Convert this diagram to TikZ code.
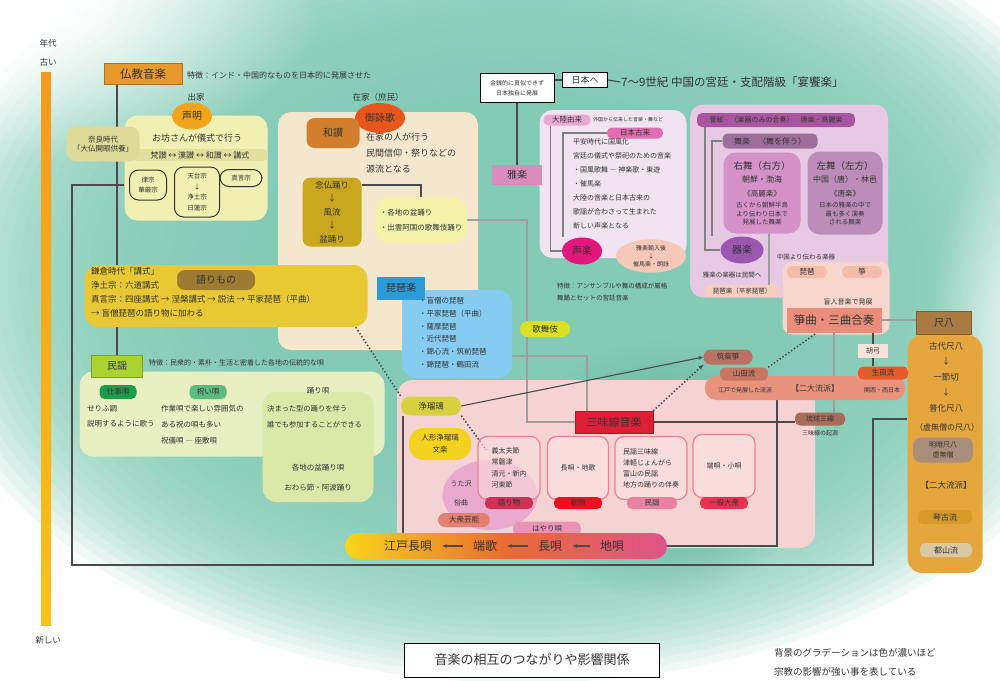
\documentclass[tikz,border=0pt]{standalone}
\usepackage{fontspec}
\setmainfont{Noto Sans CJK JP}
\usetikzlibrary{calc,
positioning,
shapes.geometric,
arrows.meta,
fadings}

\definecolor{tealbg}{HTML}{80C9B4}
\definecolor{tealdark}{HTML}{5CAB91}
\definecolor{inkgray}{HTML}{333333}
\definecolor{linkdark}{HTML}{4A4A4A}
\definecolor{linkgray}{HTML}{9E9E9E}
\definecolor{timeorange}{HTML}{F29A1F}
\definecolor{timeyellow}{HTML}{F7C21C}
\definecolor{bukkyofill}{HTML}{E8982C}
\definecolor{shukkefill}{HTML}{F1F0B2}
\definecolor{shukkerow}{HTML}{E2E09C}
\definecolor{narafill}{HTML}{DEDA98}
\definecolor{shomyofill}{HTML}{F2A41E}
\definecolor{zaikefill}{HTML}{F4E7CE}
\definecolor{goeikafill}{HTML}{E8561E}
\definecolor{wasanfill}{HTML}{D27E2C}
\definecolor{nembutsufill}{HTML}{C9A71F}
\definecolor{bonfill}{HTML}{F3F1AA}
\definecolor{gagakufill}{HTML}{DA8CBD}
\definecolor{lavfill}{HTML}{F1E3F1}
\definecolor{tairikufill}{HTML}{EAA9D1}
\definecolor{koryufill}{HTML}{DF6FB1}
\definecolor{seigakufill}{HTML}{E1177B}
\definecolor{bubblefill}{HTML}{F6C8B8}
\definecolor{purplefill}{HTML}{E7C9E5}
\definecolor{kangenfill}{HTML}{A8569F}
\definecolor{bugakufill}{HTML}{9D6E99}
\definecolor{ubufill}{HTML}{D492C9}
\definecolor{sabufill}{HTML}{BC8DB9}
\definecolor{kigakufill}{HTML}{9A56B1}
\definecolor{salmonfill}{HTML}{F7D7CD}
\definecolor{gakkifill}{HTML}{F3BCAB}
\definecolor{heikefill}{HTML}{F7CFC0}
\definecolor{sokyokufill}{HTML}{EA8D7A}
\definecolor{shakufill}{HTML}{A97B42}
\definecolor{shakucolfill}{HTML}{E5A63D}
\definecolor{meianfill}{HTML}{A98F7B}
\definecolor{kinkofill}{HTML}{D6992B}
\definecolor{tozanfill}{HTML}{D9C9A2}
\definecolor{kokyufill}{HTML}{F7E3DC}
\definecolor{ikutafill}{HTML}{E85A2B}
\definecolor{nidaifill}{HTML}{E9927D}
\definecolor{yamadafill}{HTML}{C87563}
\definecolor{tsukushifill}{HTML}{B87162}
\definecolor{ryukyufill}{HTML}{A96C5B}
\definecolor{pinkfill}{HTML}{F6D3D3}
\definecolor{pinklight}{HTML}{F9DDDD}
\definecolor{jorurifill}{HTML}{D7D142}
\definecolor{ningyofill}{HTML}{F2D21F}
\definecolor{shamisenfill}{HTML}{DF1F36}
\definecolor{subedge}{HTML}{EE8090}
\definecolor{katarimonofill}{HTML}{D02F56}
\definecolor{utamonofill}{HTML}{E8121F}
\definecolor{minyotagfill}{HTML}{E981A3}
\definecolor{taishutagfill}{HTML}{E43252}
\definecolor{utazawafill}{HTML}{E8A3CF}
\definecolor{geinofill}{HTML}{E08171}
\definecolor{hayarifill}{HTML}{EA94B3}
\definecolor{baryellow}{HTML}{F8D51B}
\definecolor{barorange}{HTML}{EA6B33}
\definecolor{barpink}{HTML}{E0528C}
\definecolor{biwatagfill}{HTML}{2B9CDA}
\definecolor{biwafill}{HTML}{86CCF2}
\definecolor{kabukifill}{HTML}{D9E122}
\definecolor{katarifill}{HTML}{E8C934}
\definecolor{kataritagfill}{HTML}{9D7C31}
\definecolor{minyofill}{HTML}{A9D333}
\definecolor{greenfill}{HTML}{E7EFC3}
\definecolor{odorifill}{HTML}{DAE8A9}
\definecolor{shigotofill}{HTML}{1F9B4B}
\definecolor{iwaifill}{HTML}{5DBB7D}

\newcommand{\jpxs}{\fontsize{6}{7.5}\selectfont}
\newcommand{\jps}{\fontsize{7.5}{9}\selectfont}
\newcommand{\jpm}{\fontsize{8.5}{10}\selectfont}
\newcommand{\jpl}{\fontsize{10}{12}\selectfont}
\newcommand{\jpxl}{\fontsize{12}{14}\selectfont}

\tikzfading[name=glow out, inner color=transparent!0, outer color=transparent!100]

\pgfdeclarelayer{regions}
\pgfdeclarelayer{links}
\pgfsetlayers{regions,links,main}

\begin{document}
\begin{tikzpicture}[x=1pt, y=-1pt,
    every node/.style={font=\jps, inner sep=1pt, text=inkgray},
    pill node/.style={rounded corners=5pt, fill=#1, inner sep=1.5pt, minimum height=13pt},
    tag node/.style={rectangle, fill=#1, draw=#1!75!black, inner sep=2pt},
    region node/.style={rounded corners=13pt, fill=#1, inner sep=0pt},
    dance node/.style={rounded corners=12pt, fill=#1, inner sep=0pt, align=center, font=\fontsize{6.5}{8.5}\selectfont},
    sub node/.style={rounded corners=9pt, draw=#1, line width=1pt},
    white node/.style={draw=black, fill=white, line width=.8pt, align=center},
    link/.style={draw=linkdark, line width=1.1pt},
    gray link/.style={draw=linkgray, line width=2.4pt},
    dot link/.style={draw=linkdark, line width=1.5pt, dotted},
    bracket/.style={draw=gray, line width=1.6pt}]

  \useasboundingbox (0,0) rectangle (1000,680);

  % background and areas
  \begin{pgfonlayer}{regions}
    \begin{scope}
      \clip (0,0) rectangle (1000,680);
      \foreach \k in {0,...,29}{
          \fill[tealbg, opacity=.11] (525,280) ellipse [x radius={575*(1.06-0.02*\k)}, y radius={380*(1.06-0.02*\k)}];
        }
      \fill[tealdark, path fading=glow out] (660,470) ellipse [x radius=150, y radius=130];
      \fill[white, path fading=glow out] (40,10) ellipse [x radius=280, y radius=150];
      \fill[white, path fading=glow out] (1040,340) ellipse [x radius=110, y radius=230];
    \end{scope}

    \node[region node=shukkefill, minimum width=143pt, minimum height=105pt] (shukkebox) at (196,168) {};
    \node[region node=zaikefill, minimum width=200pt, minimum height=238pt] (zaikebox) at (378,231) {};
    \node[region node=biwafill, rounded corners=14pt, minimum width=110pt, minimum height=88pt] (biwabox) at (457,334) {};
    \node[region node=lavfill, minimum width=147pt, minimum height=148pt] (lavbox) at (613,184) {};
    \node[region node=purplefill, minimum width=198pt, minimum height=193pt] (purplebox) at (789,201) {};
    \node[region node=salmonfill, rounded corners=10pt, minimum width=107pt, minimum height=73pt] (salmonbox) at (836,298) {};
    \node[region node=shakucolfill, rounded corners=15pt, minimum width=75pt, minimum height=238pt] (shakucol) at (945,454) {};
    \node[region node=pinkfill, rounded corners=16pt, minimum width=418pt, minimum height=168pt] (pinkbox) at (606,464) {};
    \node[ellipse, fill=utazawafill, fill opacity=.85, minimum width=95pt, minimum height=70pt] (utazawa) at (490,495) {};
    \node[region node=katarifill, rounded corners=14pt, minimum width=283pt, minimum height=62pt] (katari) at (226,296) {};
    \node[region node=greenfill, rounded corners=14pt, minimum width=305pt, minimum height=85pt] (greenbox) at (232,414) {};
    \node[region node=odorifill, rounded corners=14pt, minimum width=111pt, minimum height=110pt] (odoribox) at (318,447) {};
  \end{pgfonlayer}

  % time axis
  \node[font=\jpm] (nendai) at (48,43) {年代};
  \node[font=\jpm] (furui) at (48,62) {古い};
  \shade[top color=timeorange, bottom color=timeyellow] (41,72) rectangle (51,625);
  \node[font=\jpm] (atarashii) at (48,640) {新しい};

  % Buddhist music
  \node[tag node=bukkyofill, minimum width=78pt, minimum height=21pt, font=\fontsize{11.5}{13}\selectfont] (bukkyo) at (143,74) {仏教音楽};
  \node[anchor=west, font=\fontsize{8}{10}\selectfont] (bukkyo_note) at (186,75) {特徴：インド・中国的なものを日本的に発展させた};

  \node[font=\jpm] (shukke) at (196,97) {出家};
  \node[ellipse, fill=shomyofill, minimum width=40pt, minimum height=27pt, font=\jpl] (shomyo) at (192,116) {声明};
  \node[font=\fontsize{9}{11}\selectfont] (shukke_text) at (197,138) {お坊さんが儀式で行う};
  \node[pill node=shukkerow, minimum width=135pt, minimum height=12pt, font=\fontsize{8}{9}\selectfont] (sanrow) at (200,155) {梵讃 ↔ 漢讃 ↔ 和讃 ↔ 講式};
  \node[pill node=narafill, rounded corners=10pt, minimum width=73pt, minimum height=35pt, align=center] (nara) at (103,144) {奈良時代\\「大仏開眼供養」};
  \node[sub node=inkgray, minimum width=37pt, minimum height=30pt, align=center, font=\fontsize{6.5}{10}\selectfont] (risshu) at (148,185) {律宗\\華厳宗};
  \node[sub node=inkgray, minimum width=45pt, minimum height=50pt, align=center, font=\fontsize{6.5}{10.5}\selectfont] (tendai) at (197,192) {天台宗\\↓\\浄土宗\\日蓮宗};
  \node[sub node=inkgray, minimum width=42pt, minimum height=17pt, font=\fontsize{6.5}{8}\selectfont] (shingon) at (241,178) {真言宗};

  \node[font=\jpm] (zaike) at (378,97) {在家（庶民）};
  \node[ellipse, fill=goeikafill, minimum width=50pt, minimum height=30pt, font=\jpl] (goeika) at (380,118) {御詠歌};
  \node[pill node=wasanfill, rounded corners=8pt, minimum width=53pt, minimum height=30pt, font=\jpl] (wasan) at (333,133) {和讃};
  \node[anchor=north west, align=left, font=\fontsize{9}{16}\selectfont] (zaike_text) at (365,132) {在家の人が行う\\民間信仰・祭りなどの\\源流となる};
  \node[pill node=nembutsufill, rounded corners=8pt, minimum width=59pt, minimum height=69pt, align=center, font=\fontsize{8.5}{13.5}\selectfont] (nembutsu) at (332,212) {念仏踊り\\↓\\風流\\↓\\盆踊り};
  \node[pill node=bonfill, rounded corners=15pt, minimum width=92pt, minimum height=46pt, align=left, font=\fontsize{7.5}{15}\selectfont] (bonodori) at (421,220) {・各地の盆踊り\\・出雲阿国の歌舞伎踊り};

  % katarimono
  \node[anchor=north west, align=left, font=\fontsize{8.5}{14}\selectfont] (katari_text) at (90,266) {鎌倉時代「講式」\\浄土宗：六道講式\\真言宗：四座講式 → 涅槃講式 → 説法 → 平家琵琶（平曲）\\→ 盲僧琵琶の語り物に加わる};
  \node[pill node=kataritagfill, rounded corners=8pt, minimum width=78pt, minimum height=20pt, font=\jpl] (katari_tag) at (216,280) {語りもの};

  % folk songs
  \node[tag node=minyofill, minimum width=51pt, minimum height=22pt, font=\jpl] (minyo) at (117,366) {民謡};
  \node[anchor=west, font=\fontsize{7}{8}\selectfont] (minyo_note) at (148,363) {特徴：民衆的・素朴・生活と密着した各地の伝統的な唄};
  \node[pill node=shigotofill, minimum width=37pt, minimum height=14pt] (shigoto) at (118,392) {仕事唄};
  \node[pill node=iwaifill, minimum width=37pt, minimum height=14pt] (iwai) at (208,392) {祝い唄};
  \node[font=\jps] (odori) at (318,391) {踊り唄};
  \node[anchor=north west, align=left, font=\fontsize{7.5}{15}\selectfont] (shigoto_text) at (86,404) {せりふ調\\説明するように歌う};
  \node[anchor=north west, align=left, font=\fontsize{7.5}{16}\selectfont] (iwai_text) at (160,404) {作業唄で楽しい雰囲気の\\ある祝の唄も多い\\祝儀唄 ― 座敷唄};
  \node[anchor=north west, align=left, font=\fontsize{7.3}{16}\selectfont] (odori_text) at (266,404) {決まった型の踊りを伴う\\誰でも参加することができる};
  \node[align=center, font=\fontsize{7.5}{20}\selectfont] (odori_song) at (318,478) {各地の盆踊り唄\\おわら節・阿波踊り};

  % gagaku
  \node[white node, minimum width=74pt, minimum height=29pt, font=\fontsize{6}{10}\selectfont] (kinsen) at (517,88) {金銭的に真似できず\\日本独自に発展};
  \node[white node, minimum width=45pt, minimum height=15pt, font=\fontsize{9}{10}\selectfont] (nihon) at (585,80) {日本へ};
  \node[anchor=west, font=\fontsize{11.5}{13}\selectfont] (enkyo) at (620,82) {7～9世紀 中国の宮廷・支配階級「宴饗楽」};
  \node[tag node=gagakufill, draw=none, minimum width=50pt, minimum height=20pt, font=\jpl] (gagaku) at (517,175) {雅楽};

  \node[pill node=tairikufill, minimum width=47pt, minimum height=11pt, font=\fontsize{7.5}{8}\selectfont] (tairiku) at (567,120) {大陸由来};
  \node[anchor=west, font=\fontsize{5}{6}\selectfont] (tairiku_note) at (592,120) {外国から伝来した音楽・舞など};
  \node[pill node=koryufill, minimum width=56pt, minimum height=11pt, font=\fontsize{7.5}{8}\selectfont] (koryu) at (635,133) {日本古来};
  \node[anchor=north west, align=left, font=\fontsize{7}{14}\selectfont] (koryu_text) at (572,137) {平安時代に国風化\\宮廷の儀式や祭祀のための音楽\\・国風歌舞 ― 神楽歌・東遊\\・催馬楽\\大陸の音楽と日本古来の\\歌謡が合わさって生まれた\\新しい声楽となる};
  \node[ellipse, fill=seigakufill, minimum width=40pt, minimum height=27pt, font=\jpl] (seigaku) at (582,251) {声楽};
  \node[ellipse, fill=bubblefill, minimum width=70pt, minimum height=33pt, align=center, font=\fontsize{6}{8}\selectfont] (saibara) at (651,256) {雅楽輸入後\\↓\\催馬楽・朗詠};
  \node[anchor=north west, align=left, font=\fontsize{6.5}{12}\selectfont] (gagaku_note) at (556,282) {特徴：アンサンブルや舞の構成が厳格\\舞踊とセットの宮廷音楽};

  \node[pill node=kangenfill, minimum width=158pt, minimum height=14pt, font=\fontsize{7}{8}\selectfont] (kangen) at (776,120) {管絃　（楽器のみの合奏）　唐楽・高麗楽};
  \node[pill node=bugakufill, minimum width=95pt, minimum height=15pt, font=\fontsize{8}{9}\selectfont] (bugaku) at (770,141) {舞楽　（舞を伴う）};
  \node[dance node=ubufill, minimum width=77pt, minimum height=81pt] (ubu) at (762,193) {{\fontsize{9.5}{11}\selectfont 右舞（右方）}\\[5pt]{\fontsize{8}{9}\selectfont 朝鮮・渤海}\\[5pt]{\fontsize{7.5}{9}\selectfont 《高麗楽》}\\[3pt]古くから朝鮮半島\\より伝わり日本で\\発展した舞楽};
  \node[dance node=sabufill, minimum width=75pt, minimum height=83pt] (sabu) at (845,193) {{\fontsize{9.5}{11}\selectfont 左舞（左方）}\\[5pt]{\fontsize{8}{9}\selectfont 中国（唐）・林邑}\\[5pt]{\fontsize{7.5}{9}\selectfont 《唐楽》}\\[3pt]日本の雅楽の中で\\最も多く演奏\\される舞楽};
  \node[ellipse, fill=kigakufill, minimum width=43pt, minimum height=27pt, font=\jpl] (kigaku) at (742,250) {器楽};
  \node[font=\fontsize{6.5}{8}\selectfont] (gakki_note) at (806,257) {中国より伝わる楽器};
  \node[pill node=gakkifill, minimum width=40pt, minimum height=12pt] (biwa) at (807,272) {琵琶};
  \node[pill node=gakkifill, minimum width=40pt, minimum height=12pt] (koto) at (862,272) {箏};
  \node[font=\fontsize{6.5}{8}\selectfont] (minkan_note) at (732,275) {雅楽の楽器は民間へ};
  \node[pill node=heikefill, minimum width=75pt, minimum height=12pt, font=\fontsize{6.5}{8}\selectfont] (heike) at (742,291) {琵琶楽（平家琵琶）};

  % koto and shakuhachi
  \node[font=\fontsize{7}{8}\selectfont] (mojin) at (848,302) {盲人音楽で発展};
  \node[tag node=sokyokufill, draw=none, minimum width=95pt, minimum height=25pt, font=\fontsize{11.5}{13}\selectfont] (sokyoku) at (834,320) {箏曲・三曲合奏};
  \node[tag node=shakufill, minimum width=55pt, minimum height=23pt, font=\jpl] (shaku) at (944,323) {尺八};
  \node[anchor=north, align=center, font=\fontsize{8.5}{15.5}\selectfont] (shaku_flow) at (946,341) {古代尺八\\↓\\一節切\\↓\\普化尺八};
  \node[font=\fontsize{8}{9}\selectfont] (fuke) at (947,427) {（虚無僧の尺八）};
  \node[pill node=meianfill, rounded corners=8pt, minimum width=60pt, minimum height=25pt, align=center, font=\fontsize{7}{10}\selectfont] (meian) at (943,450) {明暗尺八\\虚無僧};
  \node[font=\fontsize{8.5}{10}\selectfont] (shaku_nidai) at (946,485) {【二大流派】};
  \node[pill node=kinkofill, minimum width=54pt, minimum height=14pt, font=\fontsize{8}{9}\selectfont] (kinko) at (945,517) {琴古流};
  \node[pill node=tozanfill, minimum width=52pt, minimum height=14pt, font=\fontsize{8}{9}\selectfont] (tozan) at (946,550) {都山流};

  \node[tag node=kokyufill, draw=none, minimum width=30pt, minimum height=14pt, font=\fontsize{7}{8}\selectfont] (kokyu) at (873,351) {胡弓};
  \node[pill node=nidaifill, rounded corners=11pt, minimum width=200pt, minimum height=24pt] (nidai) at (805,388) {};
  \node[font=\fontsize{6}{7}\selectfont] (yamada_note) at (745,390) {江戸で発展した流派};
  \node[font=\fontsize{8}{9}\selectfont] (nidai_text) at (815,388) {【二大流派】};
  \node[font=\fontsize{6}{7}\selectfont] (ikuta_note) at (882,390) {関西・西日本};
  \node[pill node=yamadafill, minimum width=48pt, minimum height=13pt, font=\fontsize{7.5}{8}\selectfont] (yamada) at (744,374) {山田流};
  \node[pill node=ikutafill, minimum width=50pt, minimum height=13pt, font=\fontsize{7.5}{8}\selectfont] (ikuta) at (883,373) {生田流};
  \node[pill node=tsukushifill, rounded corners=7pt, minimum width=49pt, minimum height=15pt, font=\fontsize{7.5}{8}\selectfont] (tsukushi) at (728,357) {筑紫箏};
  \node[pill node=ryukyufill, minimum width=50pt, minimum height=13pt, font=\fontsize{7}{8}\selectfont] (ryukyu) at (820,419) {琉球三線};
  \node[font=\fontsize{6}{7}\selectfont] (ryukyu_note) at (820,433) {三味線の起源};

  % biwa and joruri
  \node[tag node=biwatagfill, draw=none, minimum width=48pt, minimum height=23pt, font=\jpl] (biwatag) at (401,288) {琵琶楽};
  \node[anchor=north west, align=left, font=\fontsize{7.5}{12.8}\selectfont] (biwa_list) at (418,296) {・盲僧の琵琶\\・平家琵琶（平曲）\\・薩摩琵琶\\・近代琵琶\\・錦心流・筑前琵琶\\・錦琵琶・鶴田流};
  \node[pill node=kabukifill, rounded corners=8pt, minimum width=50pt, minimum height=16pt, font=\fontsize{8.5}{9}\selectfont] (kabuki) at (545,329) {歌舞伎};

  \node[pill node=jorurifill, rounded corners=9pt, minimum width=60pt, minimum height=19pt, font=\fontsize{8.5}{9}\selectfont] (joruri) at (431,406) {浄瑠璃};
  \node[pill node=ningyofill, rounded corners=15pt, minimum width=62pt, minimum height=32pt, align=center, font=\fontsize{7.5}{12}\selectfont] (ningyo) at (440,444) {人形浄瑠璃\\文楽};
  \node[tag node=shamisenfill, minimum width=78pt, minimum height=22pt, font=\fontsize{11}{12}\selectfont] (shamisen) at (614,422) {三味線音楽};

  \node[sub node=subedge, line width=1.3pt, fill=pinklight, fill opacity=.6, text opacity=1, minimum width=62pt, minimum height=63pt, align=left, font=\fontsize{7}{11.5}\selectfont] (kbox) at (509,468) {義太夫節\\常磐津\\清元・新内\\河東節};
  \node[sub node=subedge, line width=1.3pt, fill=pinklight, minimum width=61pt, minimum height=63pt, font=\fontsize{7}{9}\selectfont] (ubox) at (578,468) {長唄・地歌};
  \node[sub node=subedge, line width=1.3pt, fill=pinklight, minimum width=72pt, minimum height=63pt, align=left, font=\fontsize{7}{11}\selectfont] (mbox) at (651,468) {民謡三味線\\津軽じょんがら\\富山の民謡\\地方の踊りの伴奏};
  \node[sub node=subedge, line width=1.3pt, fill=pinklight, minimum width=62pt, minimum height=63pt, font=\fontsize{7}{9}\selectfont] (tbox) at (724,466) {端唄・小唄};
  \node[pill node=katarimonofill, minimum width=48pt, minimum height=12pt] (katarimono) at (509,503) {語り物};
  \node[pill node=utamonofill, minimum width=48pt, minimum height=12pt] (utamono) at (578,503) {歌物};
  \node[pill node=minyotagfill, minimum width=50pt, minimum height=12pt] (minyotag) at (652,503) {民謡};
  \node[pill node=taishutagfill, minimum width=48pt, minimum height=12pt] (taishu) at (724,503) {一般大衆};
  \node[align=center, font=\fontsize{7}{19}\selectfont] (utazawa_text) at (461,493) {うた沢\\俗曲};
  \node[pill node=geinofill, rounded corners=7pt, minimum width=52pt, minimum height=14pt] (geino) at (464,520) {大衆芸能};
  \node[pill node=hayarifill, rounded corners=7pt, minimum width=68pt, minimum height=15pt] (hayari) at (547,529) {はやり唄};

  % songs bar
  \node[rounded corners=13pt, left color=baryellow, right color=barpink, middle color=barorange, minimum width=322pt, minimum height=26pt] (utabar) at (506,546) {};
  \node[font=\jpxl] (edonagauta) at (408,546) {江戸長唄};
  \node[font=\jpxl] (hauta) at (485,546) {端歌};
  \node[font=\jpxl] (nagauta) at (550,546) {長唄};
  \node[font=\jpxl] (jiuta) at (612,546) {地唄};

  % notes
  \node[white node, minimum width=255pt, minimum height=34pt, font=\fontsize{13}{15}\selectfont] (caption) at (532,660) {音楽の相互のつながりや影響関係};
  \node[anchor=west, font=\fontsize{9.5}{12}\selectfont] (bg_note1) at (773,653) {背景のグラデーションは色が濃いほど};
  \node[anchor=west, font=\fontsize{9.5}{12}\selectfont] (bg_note2) at (773,672) {宗教の影響が強い事を表している};

  \coordinate (loop west) at (72,565);
  \coordinate (loop east) at (873,565);

  \begin{pgfonlayer}{links}
    \draw[link] (bukkyo.south -| minyo.north) -- (katari.north -| minyo.north);
    \draw[link] (katari.south -| minyo.north) -- (minyo.north);
    \draw[link] ([yshift=-17pt]shukkebox.west) -| (loop west) -- (loop east) |- (shakucol.west |- ryukyu);

    \draw[link] (kinsen.south) -- (gagaku.north);
    \draw[link] (kinsen.east |- nihon.west) -- (nihon.west);
    \draw[link] (nihon.east) -- (enkyo.west);

    \draw[link] ([yshift=27pt]nembutsu.east) -| (bonodori.north);
    \draw[gray link] (bonodori.east) -| ([xshift=-48pt]shamisen.west) -- (shamisen.west);
    \draw[gray link] ([yshift=-22pt]biwabox.east) -| ([xshift=-27pt]shamisen.north);

    \draw[dot link] ([xshift=-12pt]katari.south east) -- (joruri.north west);
    \draw[dot link] (joruri.south east) -- ([xshift=9pt,yshift=-14pt]kbox.north west);
    \draw[link, -{Stealth[length=5pt]}] (joruri.east) -- (tsukushi.west);
    \draw[dot link, -{Stealth[length=5pt]}] (shamisen.north east) -- (tsukushi.south west);
    \draw[link] ([xshift=-28pt]joruri.south) -- ([xshift=-28pt]joruri.south |- utabar.north);

    \draw[link] (shamisen.east) -- (shamisen.east -| ryukyu.west);
    \draw[gray link] (sokyoku.south) -- (sokyoku.south |- ryukyu.north);
    \draw[gray link] (sokyoku.east) -- (sokyoku.east -| shaku.west);
    \draw[link] (kokyu.north |- sokyoku.south) -- (kokyu.north);
    \draw[link] (kokyu.south) -- (kokyu.south |- ikuta.north);
    \draw[dot link] (yamada.north east) -- ([xshift=-17pt]sokyoku.south);
    \draw[link] ([xshift=-28pt]nidai.south) |- (jiuta.east);

    \draw[gray link, line width=1.8pt] ([xshift=7pt]ubu.south) -- ([xshift=7pt]ubu.south |- heike.north);

    \draw[bracket] ([xshift=7pt]tairiku.south west) |- (seigaku.west);
    \draw[bracket] (koryu.west) -| ([xshift=-19pt]seigaku.north);
    \draw[bracket] ([xshift=8pt]kangen.south west) |- (kigaku.west);
    \draw[bracket] (bugaku.west) -| ([xshift=-30pt]kigaku.north);
  \end{pgfonlayer}

  % arrows of the song line
  \draw[link, -{Stealth[length=5pt]}, shorten <=9pt, shorten >=9pt] (hauta.west) -- (edonagauta.east);
  \draw[link, -{Stealth[length=5pt]}, shorten <=9pt, shorten >=9pt] (nagauta.west) -- (hauta.east);
  \draw[link, -{Stealth[length=5pt]}, shorten <=9pt, shorten >=9pt] (jiuta.west) -- (nagauta.east);

\end{tikzpicture}
\end{document}
